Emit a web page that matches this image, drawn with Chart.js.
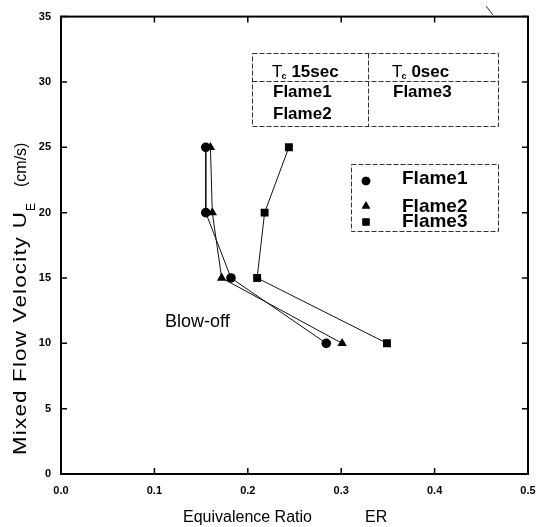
<!DOCTYPE html>
<html>
<head>
<meta charset="utf-8">
<script src="https://cdn.jsdelivr.net/npm/chart.js@4/dist/chart.umd.min.js"></script>
<style>
  html, body { margin: 0; padding: 0; background: #fff; }
  #wrap { width: 548px; height: 527px; }
</style>
</head>
<body>
<div id="wrap"><canvas id="blowoff" width="548" height="527"></canvas></div>
<script>
// Blow-off limits: mixed flow velocity vs equivalence ratio
const flameNames = ['Flame1', 'Flame2', 'Flame3'];
const velocity = [25, 20, 15, 10];
const erFlame1 = [0.155, 0.155, 0.182, 0.284];
const erFlame2 = [0.160, 0.162, 0.172, 0.301];
const erFlame3 = [0.244, 0.218, 0.210, 0.349];
const markers = ['circle', 'triangle', 'rect'];
const markerSize = [4.8, 5.4, 5.6];

const FONT = 'Arial, "Liberation Sans", Helvetica, sans-serif';

function toPoints(er) {
    return er.map((x, i) => ({ x: x, y: velocity[i] }));
}

const datasets = [erFlame1, erFlame2, erFlame3].map((er, i) => ({
    label: flameNames[i],
    data: toPoints(er),
    showLine: true,
    borderColor: '#111',
    borderWidth: 1,
    backgroundColor: '#000',
    pointStyle: markers[i],
    pointRadius: markerSize[i],
    pointBorderWidth: 0,
    pointBackgroundColor: '#000'
}));

// Frame, inward tick marks on all four sides, and the annotations
const framePlugin = {
    id: 'frame',
    afterDatasetsDraw(chart) {
        const { ctx, chartArea: a, scales } = chart;
        ctx.save();
        ctx.strokeStyle = '#000';
        ctx.lineWidth = 1.5;
        const tl = 6;
        scales.x.ticks.forEach(t => {
            const px = scales.x.getPixelForValue(t.value);
            ctx.beginPath();
            ctx.moveTo(px, a.bottom); ctx.lineTo(px, a.bottom - tl);
            ctx.moveTo(px, a.top); ctx.lineTo(px, a.top + tl);
            ctx.stroke();
        });
        scales.y.ticks.forEach(t => {
            const py = scales.y.getPixelForValue(t.value);
            ctx.beginPath();
            ctx.moveTo(a.left, py); ctx.lineTo(a.left + tl, py);
            ctx.moveTo(a.right, py); ctx.lineTo(a.right - tl, py);
            ctx.stroke();
        });
        ctx.lineWidth = 2;
        ctx.strokeRect(a.left, a.top, a.right - a.left, a.bottom - a.top);
        ctx.restore();
    },
    afterDraw(chart) {
        const { ctx } = chart;
        ctx.save();
        ctx.fillStyle = '#000';
        ctx.textAlign = 'left';
        ctx.textBaseline = 'alphabetic';

        // y axis title, rotated, with subscript E
        ctx.save();
        ctx.translate(26, 455);
        ctx.rotate(-Math.PI / 2);
        ctx.font = '18px ' + FONT;
        ctx.letterSpacing = '1px';
        const main = 'Mixed Flow Velocity U';
        const w = ctx.measureText(main).width;
        ctx.save();
        ctx.scale(244 / w, 1);
        ctx.fillText(main, 0, 0);
        ctx.restore();
        ctx.letterSpacing = '0px';
        ctx.font = '12px ' + FONT;
        ctx.fillText('E', 244, 9);
        ctx.font = '16px ' + FONT;
        ctx.fillText('(cm/s)', 268, 0);
        ctx.restore();

        // x axis title
        ctx.font = '16px ' + FONT;
        ctx.fillText('Equivalence Ratio', 183, 522);
        ctx.fillText('ER', 365, 522);

        ctx.font = '18px ' + FONT;
        ctx.fillText('Blow-off', 165, 327);

        // condition table
        ctx.strokeStyle = '#333';
        ctx.lineWidth = 1;
        ctx.setLineDash([5, 2]);
        ctx.strokeRect(252.5, 53.5, 246, 73);
        ctx.beginPath();
        ctx.moveTo(368.5, 53.5); ctx.lineTo(368.5, 126.5);
        ctx.moveTo(252.5, 81.5); ctx.lineTo(498.5, 81.5);
        ctx.stroke();

        function tc(x, y, rest) {
            ctx.font = '17px ' + FONT;
            ctx.fillText('T', x, y);
            const tw = ctx.measureText('T').width;
            ctx.font = 'bold 9px ' + FONT;
            ctx.fillText('c', x + tw - 1, y + 2);
            ctx.font = 'bold 17px ' + FONT;
            ctx.fillText(rest, x + tw + 9, y);
        }
        tc(272, 77, '15sec');
        tc(392, 77, '0sec');
        ctx.font = 'bold 17px ' + FONT;
        ctx.fillText('Flame1', 273, 97);
        ctx.fillText('Flame2', 273, 119);
        ctx.fillText('Flame3', 393, 97);

        // legend
        ctx.strokeRect(351.5, 164.5, 147, 67);
        ctx.setLineDash([]);
        const legendY = [181, 206, 222];
        const textY = [184, 212, 227];
        ctx.font = 'bold 19px ' + FONT;
        flameNames.forEach((name, i) => {
            Chart.helpers.drawPoint(ctx, {
                pointStyle: markers[i],
                radius: markerSize[i] * 0.9,
                borderWidth: 0,
                rotation: 0
            }, 366, legendY[i]);
            ctx.fill();
            ctx.fillText(name, 402, textY[i]);
        });

        // small stroke on the top edge
        ctx.beginPath();
        ctx.moveTo(486, 6); ctx.lineTo(493, 15);
        ctx.stroke();
        ctx.restore();
    }
};

const ctx = document.getElementById('blowoff').getContext('2d');
new Chart(ctx, {
    type: 'scatter',
    data: { datasets: datasets },
    options: {
        responsive: false,
        animation: false,
        layout: { padding: { top: 16, right: 20, left: 0, bottom: 0 } },
        plugins: { legend: { display: false }, tooltip: { enabled: false } },
        scales: {
            x: {
                type: 'linear',
                min: 0,
                max: 0.5,
                grid: { display: false, drawTicks: false },
                border: { display: false },
                ticks: {
                    stepSize: 0.1,
                    padding: 10,
                    color: '#000',
                    font: { family: FONT, size: 11, weight: 'bold' },
                    callback: v => v.toFixed(1)
                },
                afterFit(scale) { scale.height = 53; }
            },
            y: {
                type: 'linear',
                min: 0,
                max: 35,
                grid: { display: false, drawTicks: false },
                border: { display: false },
                ticks: {
                    stepSize: 5,
                    padding: 10,
                    color: '#000',
                    font: { family: FONT, size: 11, weight: 'bold' }
                },
                afterFit(scale) { scale.width = 61; }
            }
        }
    },
    plugins: [framePlugin]
});
</script>
</body>
</html>
